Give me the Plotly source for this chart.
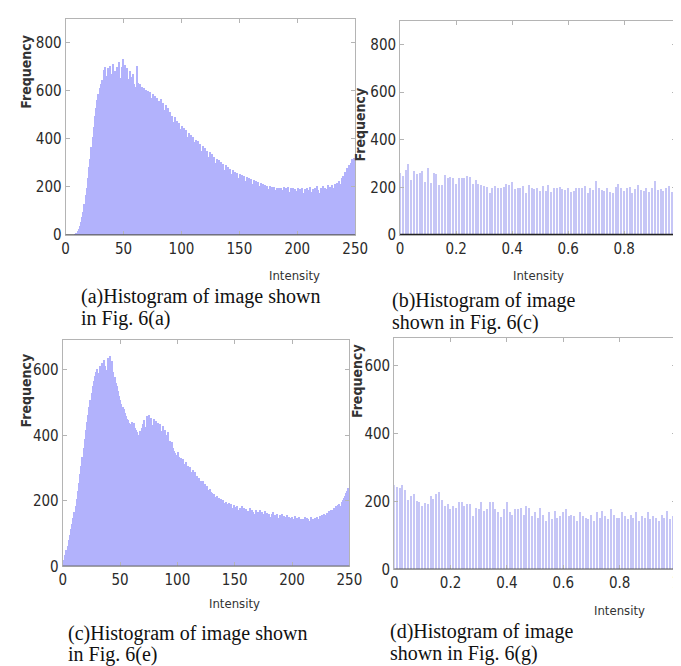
import plotly.graph_objects as go

# ---------------- data ----------------
intensity_a = list(range(0, 250))
freq_a = [
    0, 0, 0, 0, 0, 0, 0, 0, 3, 8,
    15, 24, 37, 55, 76, 98, 128, 165, 198, 238,
    282, 318, 366, 410, 452, 498, 528, 562, 588, 612,
    628, 645, 636, 688, 702, 662, 694, 648, 706, 671,
    660, 712, 684, 640, 698, 676, 720, 654, 702, 732,
    690, 708, 662, 696, 648, 684, 660, 640, 672, 628,
    616, 704, 634, 608, 628, 596, 618, 612, 590, 606,
    592, 602, 578, 596, 570, 588, 566, 580, 556, 572,
    560, 548, 566, 534, 552, 522, 540, 508, 528, 500,
    512, 486, 498, 470, 492, 462, 476, 452, 468, 440,
    456, 432, 448, 420, 438, 410, 424, 402, 416, 392,
    408, 386, 398, 372, 392, 362, 380, 352, 372, 344,
    362, 336, 350, 326, 344, 318, 336, 308, 326, 300,
    318, 294, 312, 286, 304, 280, 298, 272, 290, 266,
    284, 262, 276, 254, 270, 248, 264, 242, 258, 236,
    256, 236, 250, 232, 244, 226, 240, 222, 236, 218,
    232, 214, 228, 210, 224, 208, 220, 204, 216, 200,
    212, 196, 210, 192, 206, 190, 204, 188, 200, 186,
    202, 188, 198, 184, 196, 182, 194, 186, 200, 182,
    196, 184, 200, 178, 194, 186, 198, 180, 192, 184,
    196, 180, 190, 184, 198, 176, 192, 186, 194, 182,
    188, 200, 178, 192, 184, 196, 180, 206, 188, 174,
    196, 186, 204, 180, 198, 190, 210, 188, 202, 196,
    208, 196, 212, 200, 218, 206, 226, 214, 236, 248,
    244, 262, 258, 280, 290, 276, 300, 318, 306, 322,
]

intensity_b = [i / 100 for i in range(100)]
freq_b = [
    262, 248, 272, 300, 232, 268, 258, 262, 270, 222,
    282, 218, 262, 258, 210, 212, 252, 240, 246, 238,
    214, 240, 238, 242, 250, 244, 214, 230, 216, 210,
    208, 204, 176, 200, 206, 196, 200, 204, 214, 210,
    224, 194, 200, 196, 206, 176, 210, 196, 194, 200,
    186, 206, 184, 210, 180, 196, 200, 204, 194, 190,
    200, 180, 186, 196, 198, 200, 206, 176, 196, 190,
    228, 196, 190, 186, 196, 182, 178, 204, 214, 196,
    186, 200, 204, 178, 194, 210, 190, 184, 198, 180,
    200, 226, 188, 192, 184, 198, 206, 180, 190, 208,
]

intensity_c = list(range(0, 250))
freq_c = [
    5, 18, 32, 48, 62, 78, 94, 112, 128, 146,
    165, 184, 205, 228, 252, 280, 306, 332, 360, 388,
    416, 440, 462, 486, 508, 528, 548, 566, 580, 592,
    600, 588, 612, 596, 620, 604, 630, 610, 598, 636,
    618, 640, 604, 626, 592, 578, 560, 548, 534, 520,
    508, 496, 484, 478, 466, 458, 450, 446, 438, 432,
    440, 428, 436, 422, 416, 410, 400, 412, 398, 420,
    432, 446, 424, 458, 440, 462, 436, 452, 430, 448,
    426, 442, 418, 436, 424, 432, 412, 426, 404, 416,
    400, 396, 410, 382, 372, 378, 360, 352, 346, 340,
    348, 332, 324, 330, 318, 326, 310, 316, 300, 306,
    296, 302, 288, 292, 280, 286, 272, 276, 264, 268,
    260, 254, 258, 246, 250, 240, 244, 232, 236, 226,
    224, 216, 220, 210, 214, 204, 208, 200, 204, 196,
    200, 192, 196, 188, 184, 192, 180, 188, 178, 186,
    180, 174, 184, 170, 178, 168, 182, 172, 176, 166,
    174, 168, 162, 176, 158, 170, 164, 160, 172, 156,
    166, 160, 170, 154, 164, 158, 168, 150, 162, 156,
    160, 150, 158, 164, 148, 156, 152, 160, 146, 154,
    150, 158, 144, 152, 148, 156, 142, 150, 146, 140,
    148, 142, 152, 138, 146, 140, 150, 136, 144, 142,
    140, 148, 136, 146, 142, 138, 150, 140, 144, 136,
    146, 142, 150, 144, 152, 148, 156, 150, 160, 154,
    162, 158, 168, 164, 172, 170, 178, 174, 182, 180,
    186, 190, 184, 196, 200, 206, 214, 222, 230, 238,
]

intensity_d = [i / 100 for i in range(100)]
freq_d = [
    246, 240, 238, 248, 232, 204, 216, 220, 200, 196,
    186, 194, 190, 214, 206, 220, 226, 202, 186, 190,
    176, 186, 180, 196, 196, 186, 190, 190, 156, 180,
    176, 196, 170, 176, 196, 196, 176, 166, 152, 176,
    196, 166, 160, 176, 176, 180, 160, 186, 180, 156,
    166, 150, 180, 160, 140, 166, 146, 170, 150, 156,
    166, 176, 156, 160, 156, 140, 166, 156, 150, 146,
    160, 140, 166, 150, 170, 156, 146, 176, 160, 150,
    150, 166, 156, 146, 160, 150, 166, 140, 156, 150,
    166, 146, 156, 150, 140, 160, 150, 170, 146, 156,
]

ticks_int = [0, 50, 100, 150, 200, 250]
ticks_norm = [0, 0.2, 0.4, 0.6, 0.8, 1]
ticklabels_norm = ["0", "0.2", "0.4", "0.6", "0.8", "1"]
ticks_freq_ab = [0, 200, 400, 600, 800]
ticks_freq_cd = [0, 200, 400, 600]

captions = [
    ("(a)Histogram of image shown", "in Fig. 6(a)"),
    ("(b)Histogram of image", "shown in Fig. 6(c)"),
    ("(c)Histogram of image shown", "in Fig. 6(e)"),
    ("(d)Histogram of image", "shown in Fig. 6(g)"),
]

# ---------------- layout helpers ----------------
W, H = 681, 666


def fx(p):
    return p / W


def fy(p):
    return 1 - p / H


NARROW = "Liberation Sans Narrow, DejaVu Sans Condensed, Liberation Sans, Arial, sans-serif"
TICKFONT = dict(family=NARROW, size=15, color="#2a2a2a")
LABELFONT = dict(family=NARROW, size=13, color="#333333")
CAPFONT = dict(family="Liberation Serif, Times New Roman, serif", size=20, color="#111111")
BORDER = "#b4b4b4"
BAR_COLOR = "rgb(178,178,252)"
LINE_COLOR = "rgb(198,198,246)"

panels = [
    dict(x=intensity_a, y=freq_a, w=1.0, col=BAR_COLOR,
         xd=(55, 352), yd=(11, 230), xr=[0, 250], yr=[0, 900],
         xt=ticks_int, xtt=[str(t) for t in ticks_int], yt=ticks_freq_ab,
         base=("#5a5a5a", 1.2),
         freq=(14, 65), inten=(290, 271), cap=(70, 292, 315)),
    dict(x=intensity_b, y=freq_b, w=0.0038, col=LINE_COLOR,
         xd=(398, 681), yd=(13, 230), xr=[0, 0.985], yr=[0, 900],
         xt=ticks_norm, xtt=ticklabels_norm, yt=ticks_freq_ab,
         base=("#222222", 2.2),
         freq=(357, 118), inten=(540, 271), cap=(389, 296, 319)),
    dict(x=intensity_c, y=freq_c, w=1.0, col=BAR_COLOR,
         xd=(52, 346), yd=(337, 566), xr=[0, 250], yr=[0, 690],
         xt=ticks_int, xtt=[str(t) for t in ticks_int], yt=ticks_freq_cd,
         base=("#6a6a6a", 1.6),
         freq=(14, 388), inten=(228, 604), cap=(56, 634, 655)),
    dict(x=intensity_d, y=freq_d, w=0.0038, col=LINE_COLOR,
         xd=(392, 681), yd=(335, 569), xr=[0, 1.0], yr=[0, 680],
         xt=ticks_norm, xtt=ticklabels_norm, yt=ticks_freq_cd,
         base=("#555555", 1.6),
         freq=(354, 378), inten=(623, 611), cap=(387, 632, 654)),
]

fig = go.Figure()
layout = dict(
    width=W, height=H,
    margin=dict(l=0, r=0, t=0, b=0),
    paper_bgcolor="white", plot_bgcolor="white",
    showlegend=False, bargap=0,
    annotations=[], shapes=[],
)

for i, p in enumerate(panels, start=1):
    sx = "" if i == 1 else str(i)
    fig.add_trace(go.Bar(
        x=p["x"], y=p["y"], width=p["w"],
        marker=dict(color=p["col"], line=dict(width=0)),
        xaxis="x" + sx, yaxis="y" + sx, hoverinfo="x+y",
    ))
    layout["xaxis" + sx] = dict(
        domain=[fx(p["xd"][0]), fx(p["xd"][1])], range=p["xr"],
        anchor="y" + sx, tickvals=p["xt"], ticktext=p["xtt"],
        ticks="inside", ticklen=4, tickcolor=BORDER, tickwidth=1,
        showline=True, linecolor=BORDER, linewidth=1, mirror="ticks",
        showgrid=False, zeroline=False, tickfont=TICKFONT, ticklabelstandoff=0,
    )
    layout["yaxis" + sx] = dict(
        domain=[fy(p["yd"][1]), fy(p["yd"][0])], range=p["yr"],
        anchor="x" + sx, tickvals=p["yt"],
        ticks="inside", ticklen=4, tickcolor=BORDER, tickwidth=1,
        showline=True, linecolor=BORDER, linewidth=1, mirror="ticks",
        showgrid=False, zeroline=False, tickfont=TICKFONT, ticklabelstandoff=0,
    )
    # dark baseline at zero
    layout["shapes"].append(dict(
        type="line", xref="x" + sx + " domain", yref="y" + sx,
        x0=0, x1=1, y0=0, y1=0,
        line=dict(color=p["base"][0], width=p["base"][1]),
    ))
    layout["annotations"].append(dict(
        text="<b>Frequency</b>", textangle=-90, showarrow=False,
        xref="paper", yref="paper", x=fx(p["freq"][0]), y=fy(p["freq"][1]),
        xanchor="center", yanchor="middle",
        font=dict(family=NARROW, size=14, color="#333333"),
    ))
    layout["annotations"].append(dict(
        text="Intensity", showarrow=False,
        xref="paper", yref="paper", x=fx(p["inten"][0]), y=fy(p["inten"][1]),
        xanchor="center", yanchor="middle", font=LABELFONT,
    ))
    for line_text, ypos in zip(captions[i - 1], p["cap"][1:]):
        layout["annotations"].append(dict(
            text=line_text, showarrow=False, align="left",
            xref="paper", yref="paper", x=fx(p["cap"][0]), y=fy(ypos),
            xanchor="left", yanchor="middle", font=CAPFONT, borderpad=0,
        ))

fig.update_layout(**layout)
fig.write_html("out.html")
